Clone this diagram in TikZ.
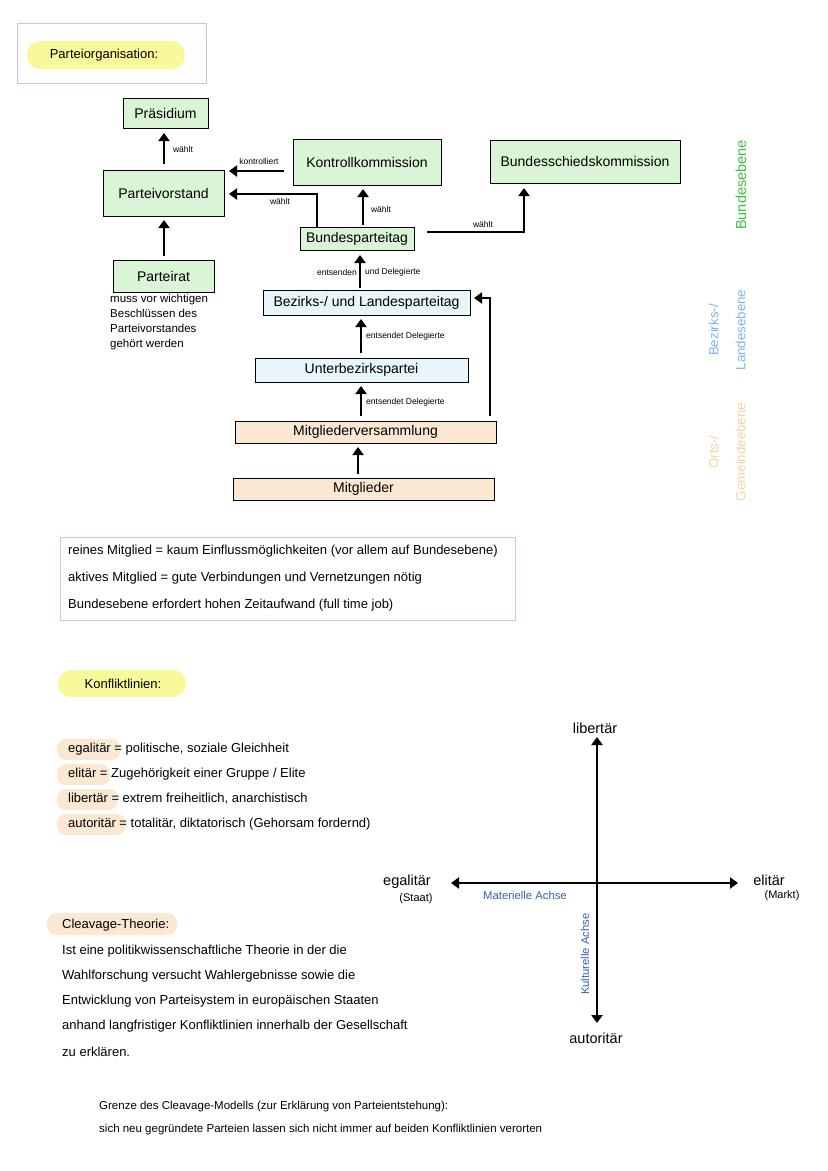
\documentclass[tikz,border=0pt]{standalone}
\usepackage{fontspec}
\setmainfont{Liberation Sans}
\usetikzlibrary{arrows.meta}
\definecolor{boxgreen}{HTML}{DAF5D5}
\definecolor{boxblue}{HTML}{E7F6FB}
\definecolor{boxpeach}{HTML}{FBE8D3}
\definecolor{pillyellow}{HTML}{F9F99A}
\definecolor{framepurple}{HTML}{D9BDE8}
\definecolor{lvlgreen}{HTML}{3EBE3E}
\definecolor{lvlblue}{HTML}{7DB6E8}
\definecolor{lvlpeach}{HTML}{F4D3A6}
\definecolor{axisblue}{HTML}{3A62A3}
\tikzset{
  orgbox/.style={draw=black, line width=0.9pt, inner sep=0pt, font=\fontsize{14}{16}\selectfont},
  conn/.style={line width=2.4pt, -{Triangle[length=8pt,width=11pt]}},
  tiny/.style={font=\fontsize{8.5}{10}\selectfont, inner sep=0pt},
  body/.style={font=\fontsize{13}{15}\selectfont, anchor=west, inner sep=0pt},
  lvl/.style={rotate=90, inner sep=0pt, align=center},
  axlbl/.style={font=\fontsize{14.5}{16}\selectfont, inner sep=1pt},
  axsub/.style={font=\fontsize{11}{13}\selectfont, inner sep=0pt},
}
\begin{document}
\begin{tikzpicture}[x=1pt,y=-1pt]
\useasboundingbox (0,0) rectangle (828,1171);
\fill[white] (0,0) rectangle (828,1171);

% header
\draw[framepurple, line width=0.8pt] (17,23) rectangle (206,83);
\fill[pillyellow, rounded corners=13pt] (27,41) rectangle (185,69);
\node[font=\fontsize{13}{15}\selectfont, inner sep=0pt] (ttl) at (104,55) {Parteiorganisation:};

% boxes
\node[orgbox, fill=boxgreen, minimum width=85pt, minimum height=30pt] (praes) at (165.5,113) {Präsidium};
\node[orgbox, fill=boxgreen, minimum width=121pt, minimum height=46pt] (pv) at (163.5,193) {Parteivorstand};
\node[orgbox, fill=boxgreen, minimum width=148pt, minimum height=46pt] (kk) at (367,162) {Kontrollkommission};
\node[orgbox, fill=boxgreen, minimum width=190pt, minimum height=43pt] (bsk) at (585,161.5) {Bundesschiedskommission};
\node[orgbox, fill=boxgreen, minimum width=114pt, minimum height=23pt] (bpt) at (357,238.5) {Bundesparteitag};
\node[orgbox, fill=boxgreen, minimum width=101pt, minimum height=32pt] (prat) at (163.5,276) {Parteirat};
\node[orgbox, fill=boxblue, minimum width=207pt, minimum height=25pt] (blpt) at (366.5,302.5) {Bezirks-/ und Landesparteitag};
\node[orgbox, fill=boxblue, minimum width=213pt, minimum height=24pt] (ubp) at (361.5,370) {Unterbezirkspartei};
\node[orgbox, fill=boxpeach, minimum width=261pt, minimum height=22pt] (mv) at (365.5,432) {Mitgliederversammlung};
\node[orgbox, fill=boxpeach, minimum width=261pt, minimum height=22pt] (mg) at (363.5,489) {Mitglieder};

% connectors
\coordinate (pvtop) at (164,164);
\draw[conn] (pvtop) -- (164,133);
\node[tiny] (l1) at (183,149) {wählt};
\coordinate (kkw) at (284,171);
\draw[conn] (kkw) -- (229,171);
\node[tiny] (l2) at (259,161) {kontrolliert};
\coordinate (b1) at (317,194);
\draw[conn] (bpt.north -| 317,0) -- (b1) -- (229,194);
\node[tiny] (l3) at (280,201) {wählt};
\draw[conn] (363,225) -- (363,189);
\node[tiny] (l4) at (381,209) {wählt};
\coordinate (b2) at (524,232);
\draw[conn] (427,232) -- (b2) -- (524,188);
\node[tiny] (l5) at (483,224) {wählt};
\coordinate (prtop) at (164,256);
\draw[conn] (prtop) -- (164,220);
\draw[conn] (360,288) -- (360,255);
\node[tiny, anchor=east] (l6) at (357,272) {entsenden};
\node[tiny, anchor=west] (l7) at (365,272) {und Delegierte};
\draw[conn] (361,353) -- (361,319);
\node[tiny, anchor=west] (l8) at (366,336) {entsendet Delegierte};
\draw[conn] (361,416) -- (361,386);
\node[tiny, anchor=west] (l9) at (366,402) {entsendet Delegierte};
\coordinate (b3) at (490,298);
\draw[conn] (490,416) -- (b3) -- (474,298);
\coordinate (mgtop) at (358,474);
\draw[conn] (mgtop) -- (358,447);

% Parteirat note
\node[font=\fontsize{11.5}{15}\selectfont, anchor=north west, align=left, inner sep=0pt] (note) at (110,294) {muss vor wichtigen\\Beschlüssen des\\Parteivorstandes\\gehört werden};

% level labels
\node[lvl, text=lvlgreen, font=\fontsize{14.5}{16}\selectfont] (lg) at (741,185) {Bundesebene};
\node[lvl, text=lvlblue, font=\fontsize{13.3}{27}\selectfont] (lb) at (727,330) {Bezirks-/\\Landesebene};
\node[lvl, text=lvlpeach, font=\fontsize{13.3}{27}\selectfont] (lp) at (727,452) {Orts-/\\Gemeindeebene};

% info box
\draw[framepurple, line width=0.8pt] (60,537) rectangle (515,620);
\node[body] (t1) at (68,551) {reines Mitglied = kaum Einflussmöglichkeiten (vor allem auf Bundesebene)};
\node[body] (t2) at (68,578) {aktives Mitglied = gute Verbindungen und Vernetzungen nötig};
\node[body] (t3) at (68,605) {Bundesebene erfordert hohen Zeitaufwand (full time job)};

% Konfliktlinien
\fill[pillyellow, rounded corners=13pt] (58,670) rectangle (186,697);
\node[font=\fontsize{13}{15}\selectfont, inner sep=0pt] (kt) at (123,684) {Konfliktlinien:};

\fill[boxpeach, rounded corners=9pt] (57,739) rectangle (120,760);
\fill[boxpeach, rounded corners=9pt] (57,764) rectangle (110,785);
\fill[boxpeach, rounded corners=9pt] (57,789) rectangle (118,810);
\fill[boxpeach, rounded corners=9pt] (57,814) rectangle (126,835);
\node[body] (d1) at (68,749) {egalitär = politische, soziale Gleichheit};
\node[body] (d2) at (68,774) {elitär = Zugehörigkeit einer Gruppe / Elite};
\node[body] (d3) at (68,799) {libertär = extrem freiheitlich, anarchistisch};
\node[body] (d4) at (68,824) {autoritär = totalitär, diktatorisch (Gehorsam fordernd)};

% axes
\coordinate (ctr) at (597,883);
\node[axlbl] (lib) at (595,728) {libertär};
\node[axlbl] (aut) at (596,1038) {autoritär};
\node[axlbl] (ega) at (407,882) {egalitär};
\node[axsub] (sta) at (416,899) {(Staat)};
\node[axlbl] (eli) at (769,880) {elitär};
\node[axsub] (mar) at (782,896) {(Markt)};
\draw[conn, line width=2pt] (ctr) -- (597,737);
\draw[conn, line width=2pt] (ctr) -- (597,1023);
\draw[conn, line width=2pt] (ctr) -- (451,883);
\draw[conn, line width=2pt] (ctr) -- (738,883);
\node[text=axisblue, font=\fontsize{11.3}{13}\selectfont, inner sep=0pt] (ma) at (525,895) {Materielle Achse};
\node[text=axisblue, font=\fontsize{11.3}{13}\selectfont, inner sep=0pt, rotate=90] (ka) at (585,954) {Kulturelle Achse};

% Cleavage
\fill[boxpeach, rounded corners=10pt] (47,913) rectangle (177,935);
\node[body] (ct) at (62,925) {Cleavage-Theorie:};
\node[body] (c1) at (62,951) {Ist eine politikwissenschaftliche Theorie in der die};
\node[body] (c2) at (62,976) {Wahlforschung versucht Wahlergebnisse sowie die};
\node[body] (c3) at (62,1001) {Entwicklung von Parteisystem in europäischen Staaten};
\node[body] (c4) at (62,1026) {anhand langfristiger Konfliktlinien innerhalb der Gesellschaft};
\node[body] (c5) at (62,1052) {zu erklären.};

\node[body, font=\fontsize{11.5}{13}\selectfont] (g1) at (99,1107) {Grenze des Cleavage-Modells (zur Erklärung von Parteientstehung):};
\node[body, font=\fontsize{11.5}{13}\selectfont] (g2) at (99,1130) {sich neu gegründete Parteien lassen sich nicht immer auf beiden Konfliktlinien verorten};
\end{tikzpicture}
\end{document}
